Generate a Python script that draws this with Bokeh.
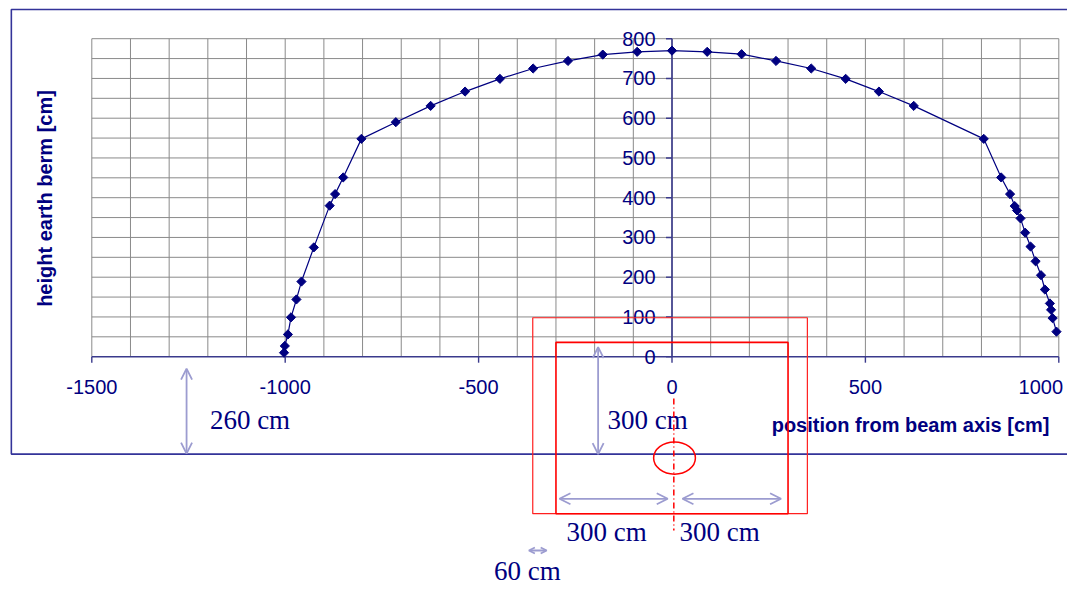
import numpy as np
from bokeh.plotting import figure
from bokeh.models import Range1d, Arrow, OpenHead
from bokeh.core.properties import value
from bokeh.embed import file_html
from bokeh.resources import INLINE

# ---------------- data ----------------
pos_cm = [-1003, -1001, -993, -985, -971, -958, -926, -885, -871, -850, -803, -714,
          -624, -535, -445, -359, -269, -179, -90, 0,
          91, 180, 269, 360, 449, 535, 625, 806, 851, 874, 886, 892, 901, 913,
          927, 940, 954, 964, 977, 980, 984, 994]
height_cm = [10, 27, 56, 99, 144, 189, 275, 380, 409, 451, 548, 590,
             631, 667, 699, 725, 744, 760, 767, 770,
             767, 761, 744, 725, 699, 667, 631, 548, 451, 409, 379, 368, 348, 312,
             277, 240, 205, 169, 134, 118, 97, 63]

x_ticks = [-1500, -1000, -500, 0, 500, 1000]
x_tick_labels = ["-1500", "-1000", "-500", "0", "500", "1000"]
y_ticks = [0, 100, 200, 300, 400, 500, 600, 700, 800]
y_tick_labels = ["0", "100", "200", "300", "400", "500", "600", "700", "800"]
x_grid = list(range(-1500, 1001, 100))
y_grid = list(range(50, 801, 50))

x_title = "position from beam axis [cm]"
y_title = "height earth berm [cm]"

# tunnel cross-section sketch (cm)
rect_left = [-360, -300]
rect_right = [350, 300]
rect_bottom = [-395, -395]
rect_top = [98, 36]

beam_x = [6.5]
beam_y = [-255]
beam_w = [108]
beam_h = [81]
beam_axis_x = [4.7, 4.7]
beam_axis_y = [-105, -437]

dim_x0 = [-1255, -191, -291, 27, -370]
dim_y0 = [-30, 24, -357.5, -357.5, -487.5]
dim_x1 = [-1255, -191, -11, 282, -324]
dim_y1 = [-244, -245, -357.5, -357.5, -487.5]
dim_labels = ["260 cm", "300 cm", "300 cm", "300 cm", "60 cm"]
dim_label_x = [-1091, -63, -169, 123, -374]
dim_label_y = [-160.5, -160.5, -442, -442, -538]

frame_left, frame_right, frame_top, frame_bottom = -1708, 3000, 873.5, -245

# ---------------- layout ----------------
W, H = 1067, 587
X0_PX, XS = 671.5, 0.3868
Y0_PX, YS = 356.2, 0.3975
xr = Range1d((0 - X0_PX) / XS, (W - X0_PX) / XS)
yr = Range1d((Y0_PX - H) / YS, (Y0_PX - 0) / YS)

p = figure(width=W, height=H, x_range=xr, y_range=yr, output_backend="svg",
           toolbar_location=None, x_axis_location=None, y_axis_location=None,
           min_border=0, outline_line_color=None, background_fill_color="white")
p.xgrid.visible = False
p.ygrid.visible = False

NAVY = "#000080"
AX = "#3a3a8c"
LAV = "#9c9cd0"
FONT = value("Liberation Sans")
SERIF = value("Liberation Serif")

# outer chart frame
p.quad(left=[frame_left], right=[frame_right], top=[frame_top], bottom=[frame_bottom],
       fill_color=None, line_color="#333399", line_width=1.6)

# grid
xmin, xmax = x_grid[0], x_grid[-1]
p.segment(x0=x_grid, y0=[0] * len(x_grid), x1=x_grid, y1=[y_grid[-1]] * len(x_grid),
          line_color="#8a8a8a", line_width=1)
p.segment(x0=[xmin] * len(y_grid), y0=y_grid, x1=[xmax] * len(y_grid), y1=y_grid,
          line_color="#8a8a8a", line_width=1)

# axes lines and ticks
tick_x = 6 / XS
tick_y = 6 / YS
p.segment(x0=[xmin], y0=[0], x1=[xmax], y1=[0], line_color=AX, line_width=1.6)
p.segment(x0=[0], y0=[0], x1=[0], y1=[y_ticks[-1]], line_color=AX, line_width=1.6)
p.segment(x0=x_ticks, y0=[0] * len(x_ticks), x1=x_ticks, y1=[-tick_y] * len(x_ticks),
          line_color=AX, line_width=1.4)
p.segment(x0=[0] * len(y_ticks), y0=y_ticks, x1=[-tick_x] * len(y_ticks), y1=y_ticks,
          line_color=AX, line_width=1.4)

# tick labels (last x label nudged left so it stays inside the page)
p.text(x=x_ticks[:-1], y=[-30 / YS] * (len(x_ticks) - 1), text=x_tick_labels[:-1],
       text_font=FONT, text_font_size="20px", text_color=NAVY,
       text_align="center", text_baseline="middle")
p.text(x=x_ticks[-1:], y=[-30 / YS], text=x_tick_labels[-1:], x_offset=-18,
       text_font=FONT, text_font_size="20px", text_color=NAVY,
       text_align="center", text_baseline="middle")
p.text(x=[-16.5 / XS] * len(y_ticks), y=y_ticks, text=y_tick_labels, text_font=FONT,
       text_font_size="20px", text_color=NAVY, text_align="right", text_baseline="middle")

# axis titles
p.text(x=[616.8], y=[-173], text=[x_title], text_font=FONT, text_font_style="bold",
       text_font_size="20px", text_color=NAVY, text_align="center", text_baseline="middle")
p.text(x=[-1621], y=[398], text=[y_title], text_font=FONT, text_font_style="bold",
       text_font_size="20px", text_color=NAVY, text_align="center", text_baseline="middle",
       angle=np.pi / 2)

# data
p.line(pos_cm, height_cm, line_color=NAVY, line_width=1.2)
p.scatter(pos_cm, height_cm, marker="square", angle=np.pi / 4, size=6.5,
          fill_color=NAVY, line_color=NAVY)

# dimension labels
p.text(x=dim_label_x, y=dim_label_y, text=dim_labels, text_font=SERIF,
       text_font_size="27px", text_color=NAVY, text_align="center", text_baseline="middle")

# tunnel sketch
p.quad(left=rect_left[:1], right=rect_right[:1], top=rect_top[:1], bottom=rect_bottom[:1],
       fill_color=None, line_color="#ff2020", line_width=1.2)
p.quad(left=rect_left[1:], right=rect_right[1:], top=rect_top[1:], bottom=rect_bottom[1:],
       fill_color=None, line_color="red", line_width=1.6)
p.ellipse(x=beam_x, y=beam_y, width=beam_w, height=beam_h, fill_color=None,
          line_color="red", line_width=1.5)
p.line(beam_axis_x, beam_axis_y, line_color="red", line_width=1.5, line_dash="6 3 1 3")

heads = [11, 11, 11, 11, 6]
for i in range(len(dim_x0)):
    p.add_layout(Arrow(x_start=dim_x0[i], y_start=dim_y0[i], x_end=dim_x1[i], y_end=dim_y1[i],
                       line_color=LAV, line_width=1.8,
                       start=OpenHead(size=heads[i], line_color=LAV, line_width=1.8),
                       end=OpenHead(size=heads[i], line_color=LAV, line_width=1.8)))

open("out.html", "w").write(file_html(p, INLINE))
